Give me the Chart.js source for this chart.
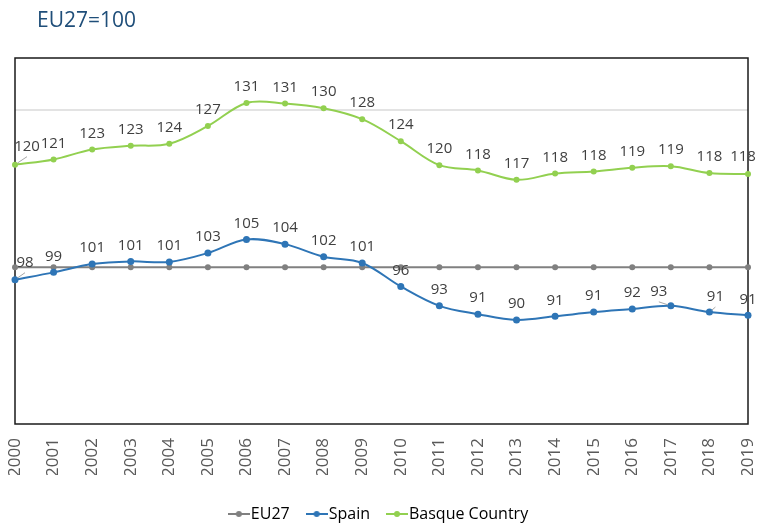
<!DOCTYPE html>
<html>
<head>
<meta charset="utf-8">
<script src="https://cdn.jsdelivr.net/npm/chart.js@4.4.0/dist/chart.umd.min.js"></script>
<style>
  body { margin: 0; background: #fff; }
  canvas { display: block; }
</style>
</head>
<body>
<canvas id="gdpChart" width="759" height="524"></canvas>
<script>
// years on the x axis
const years = ['2000', '2001', '2002', '2003', '2004', '2005', '2006', '2007', '2008', '2009',
  '2010', '2011', '2012', '2013', '2014', '2015', '2016', '2017', '2018', '2019'];

// values (EU27 = 100)
const eu27 = [100, 100, 100, 100, 100, 100, 100, 100, 100, 100,
  100, 100, 100, 100, 100, 100, 100, 100, 100, 100];
const spain = [97.6, 99.0, 100.6, 101.1, 101.0, 102.7, 105.3, 104.4, 102.0, 100.8,
  96.3, 92.6, 91.0, 89.9, 90.6, 91.4, 92.0, 92.6, 91.4, 90.8];
const basque = [119.6, 120.6, 122.5, 123.2, 123.6, 127.0, 131.4, 131.3, 130.4, 128.3,
  124.1, 119.5, 118.5, 116.7, 117.9, 118.3, 119.0, 119.3, 118.0, 117.8];

// printed labels
const spainLabels = ['98', '99', '101', '101', '101', '103', '105', '104', '102', '101',
  '96', '93', '91', '90', '91', '91', '92', '93', '91', '91'];
const basqueLabels = ['120', '121', '123', '123', '124', '127', '131', '131', '130', '128',
  '124', '120', '118', '117', '118', '118', '119', '119', '118', '118'];

const grey = '#808080';
const blue = '#2e75b6';
const green = '#92d050';

// line + dot marker for the legend
let legendMarker = (color) => {
  const c = document.createElement('canvas');
  c.width = 22; c.height = 10;
  const g = c.getContext('2d');
  g.strokeStyle = color; g.lineWidth = 2;
  g.beginPath(); g.moveTo(0, 5); g.lineTo(22, 5); g.stroke();
  g.fillStyle = color;
  g.beginPath(); g.arc(11, 5, 3, 0, Math.PI * 2); g.fill();
  return c;
};

// a few labels sit off-centre in the original, with a small leader line
const labelTweaks = {
  '1:0': {dx: 10, dy: -17, leader: true},
  '1:17': {dx: -12, dy: -14, leader: true},
  '1:18': {dx: 6, dy: -15, leader: true},
  '2:0': {dx: 12, dy: -18, leader: true},
  '2:19': {dx: -5, dy: -17}
};

const extras = {
  id: 'extras',
  afterLayout(chart) {
    chart.legend.top += 8;
    chart.legend.bottom += 8;
  },
  beforeDraw(chart) {
    const ctx = chart.ctx;
    ctx.save();
    ctx.fillStyle = '#1f4e79';
    ctx.font = '21px "Open Sans"';
    ctx.textBaseline = 'alphabetic';
    ctx.fillText('EU27=100', 37, 27);
    ctx.restore();
  },
  beforeDatasetsDraw(chart) {
    const {ctx, chartArea: a} = chart;
    ctx.save();
    ctx.strokeStyle = '#1a1a1a';
    ctx.lineWidth = 1.5;
    ctx.strokeRect(a.left, a.top, a.right - a.left, a.bottom - a.top);
    ctx.restore();
  },
  afterDatasetsDraw(chart) {
    const ctx = chart.ctx;
    ctx.save();
    ctx.font = '15px "Open Sans"';
    ctx.fillStyle = '#404040';
    ctx.textAlign = 'center';
    ctx.textBaseline = 'middle';
    chart.data.datasets.forEach((ds, di) => {
      if (!ds.pointLabels) return;
      chart.getDatasetMeta(di).data.forEach((pt, i) => {
        const t = labelTweaks[di + ':' + i] || {dx: 0, dy: -16};
        const lx = pt.x + t.dx, ly = pt.y + t.dy;
        if (t.leader) {
          const ex = lx, ey = ly + 10;
          const len = Math.hypot(ex - pt.x, ey - pt.y);
          ctx.strokeStyle = '#a6a6a6';
          ctx.lineWidth = 1;
          ctx.beginPath();
          ctx.moveTo(pt.x + (ex - pt.x) * 3 / len, pt.y + (ey - pt.y) * 3 / len);
          ctx.lineTo(ex, ey);
          ctx.stroke();
        }
        ctx.fillText(ds.pointLabels[i], lx, ly);
      });
    });
    ctx.restore();
  }
};

Chart.defaults.font.family = '"Open Sans", sans-serif';

new Chart(document.getElementById('gdpChart'), {
  type: 'line',
  data: {
    labels: years,
    datasets: [
      {
        label: 'EU27', data: eu27, order: 3,
        borderColor: grey, backgroundColor: grey, borderWidth: 2,
        pointRadius: 3, pointBorderWidth: 0, tension: 0, clip: 10
      },
      {
        label: 'Spain', data: spain, order: 1, pointLabels: spainLabels,
        borderColor: blue, backgroundColor: blue, borderWidth: 2,
        pointRadius: 3.5, pointBorderWidth: 0, tension: 0.35, clip: 10
      },
      {
        label: 'Basque Country', data: basque, order: 2, pointLabels: basqueLabels,
        borderColor: green, backgroundColor: green, borderWidth: 2,
        pointRadius: 3, pointBorderWidth: 0, tension: 0.35, clip: 10
      }
    ]
  },
  options: {
    responsive: false,
    animation: false,
    devicePixelRatio: 1,
    layout: { padding: { top: 58, left: 15, right: 11, bottom: 0 } },
    scales: {
      x: {
        grid: { display: false, drawTicks: false },
        border: { display: false },
        ticks: { autoSkip: false, minRotation: 90, maxRotation: 90, padding: 14,
          color: '#595959', font: { size: 17 } },
        afterFit: (scale) => { scale.height = 51; scale.paddingLeft = 0; scale.paddingRight = 0; }
      },
      y: {
        min: 70, max: 140,
        ticks: { display: false, stepSize: 10 },
        border: { display: false },
        grid: {
          drawTicks: false, lineWidth: 2,
          color: (c) => (c.tick && c.tick.value === 130 ? '#e3e3e3' : 'rgba(0,0,0,0)')
        },
        afterFit: (scale) => { scale.width = 0; }
      }
    },
    plugins: {
      title: { display: false },
      tooltip: { enabled: false },
      legend: {
        position: 'bottom',
        labels: {
          usePointStyle: true, pointStyleWidth: 8, padding: 23,
          color: '#595959', font: { size: 16 },
          generateLabels: (chart) => chart.data.datasets.map((ds, i) => ({
            text: ds.label, pointStyle: legendMarker(ds.borderColor),
            fillStyle: ds.borderColor, strokeStyle: ds.borderColor,
            lineWidth: 0, hidden: false, datasetIndex: i
          }))
        }
      }
    }
  },
  plugins: [extras]
});
</script>
</body>
</html>
